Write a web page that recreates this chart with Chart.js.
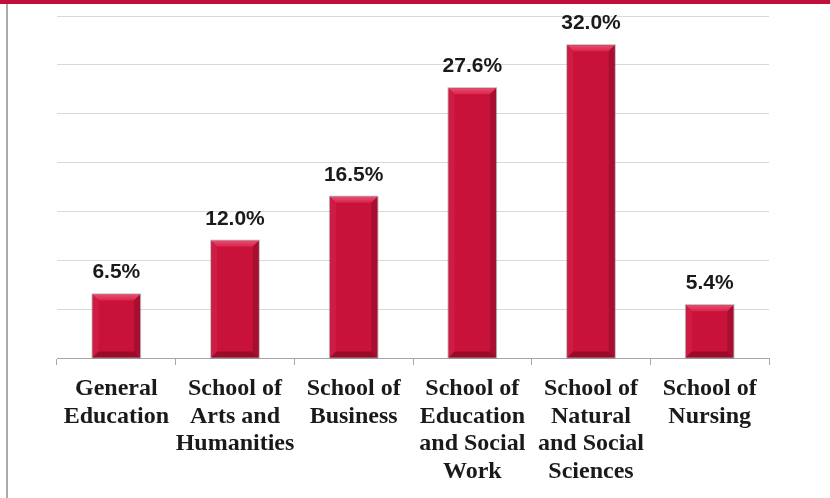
<!DOCTYPE html>
<html>
<head>
<meta charset="utf-8">
<script src="https://cdn.jsdelivr.net/npm/chart.js@4"></script>
<style>
  html, body { margin: 0; padding: 0; background: #fff; }
  #wrap { position: relative; width: 830px; height: 498px; overflow: hidden; }
  #topBand { position: absolute; left: 0; top: 0; width: 830px; height: 4px; background: #c0103a; }
  #leftLine { position: absolute; left: 6px; top: 4px; width: 2px; height: 494px; background: #aaaaaa; }
  canvas { position: absolute; left: 0; top: 0; }
</style>
</head>
<body>
<div id="wrap">
  <canvas id="schoolChart" width="830" height="498"></canvas>
  <div id="topBand"></div>
  <div id="leftLine"></div>
</div>
<script>
const categories = [
  ["General", "Education"],
  ["School of", "Arts and", "Humanities"],
  ["School of", "Business"],
  ["School of", "Education", "and Social", "Work"],
  ["School of", "Natural", "and Social", "Sciences"],
  ["School of", "Nursing"]
];
const shares = [6.5, 12.0, 16.5, 27.6, 32.0, 5.4];
const yTicks = [0, 5, 10, 15, 20, 25, 30, 35];

// bevelled look of the bars, drawn over each bar element
const bevelPlugin = {
  id: "bevel",
  afterDatasetsDraw(chart) {
    const ctx = chart.ctx;
    const b = 6;
    chart.getDatasetMeta(0).data.forEach((bar) => {
      const p = bar.getProps(["x", "y", "base", "width"], true);
      const l = p.x - p.width / 2;
      const r = p.x + p.width / 2;
      const t = p.y;
      const bot = p.base;
      ctx.save();
      const poly = (pts, color) => {
        ctx.beginPath();
        ctx.moveTo(pts[0][0], pts[0][1]);
        pts.slice(1).forEach((pt) => ctx.lineTo(pt[0], pt[1]));
        ctx.closePath();
        ctx.fillStyle = color;
        ctx.fill();
      };
      const topGrad = ctx.createLinearGradient(0, t, 0, t + b);
      topGrad.addColorStop(0, "#ee4a70");
      topGrad.addColorStop(1, "#d8244c");
      poly([[l, t], [r, t], [r - b, t + b], [l + b, t + b]], topGrad);
      poly([[l, t], [l + b, t + b], [l + b, bot - b], [l, bot]], "#d01c44");
      poly([[r, t], [r, bot], [r - b, bot - b], [r - b, t + b]], "#a80e30");
      poly([[l, bot], [r, bot], [r - b, bot - b], [l + b, bot - b]], "#9a0b2a");
      ctx.strokeStyle = "rgba(90, 90, 90, 0.45)";
      ctx.lineWidth = 1;
      ctx.strokeRect(l - 0.5, t - 0.5, p.width + 1, bot - t + 1);
      ctx.restore();
    });
  },
};

const valueLabels = {
  id: "valueLabels",
  afterDatasetsDraw(chart) {
    const ctx = chart.ctx;
    ctx.save();
    ctx.font = "bold 21px 'Liberation Sans', Arial, sans-serif";
    ctx.fillStyle = "#1a1a1a";
    ctx.textAlign = "center";
    ctx.textBaseline = "alphabetic";
    chart.getDatasetMeta(0).data.forEach((bar, i) => {
      ctx.fillText(shares[i].toFixed(1) + "%", bar.x, bar.y - 16);
    });
    ctx.restore();
  },
};

new Chart(document.getElementById("schoolChart"), {
  type: "bar",
  data: {
    labels: categories,
    datasets: [
      {
        data: shares,
        backgroundColor: "#c8123a",
        borderWidth: 0,
        barPercentage: 0.8,
        categoryPercentage: 0.5,
      },
    ],
  },
  options: {
    responsive: false,
    animation: false,
    devicePixelRatio: 1,
    layout: {
      padding: { left: 57, right: 61, top: 16, bottom: 0 },
    },
    plugins: {
      legend: { display: false },
      tooltip: { enabled: false },
    },
    scales: {
      x: {
        afterFit: (scale) => {
          scale.height = 140;
        },
        border: { display: true, color: "#a6a6a6", width: 1 },
        grid: {
          drawOnChartArea: false,
          drawTicks: true,
          tickLength: 7,
          color: "#a6a6a6",
        },
        ticks: {
          autoSkip: false,
          maxRotation: 0,
          minRotation: 0,
          padding: 10,
          color: "#1a1a1a",
          font: {
            family: "'Liberation Serif', 'Times New Roman', serif",
            size: 24,
            weight: "bold",
            lineHeight: 1.15,
          },
        },
      },
      y: {
        min: yTicks[0],
        max: yTicks[yTicks.length - 1],
        afterBuildTicks: (scale) => {
          scale.ticks = yTicks.map((v) => ({ value: v }));
        },
        afterFit: (scale) => {
          scale.width = 0;
        },
        border: { display: false },
        grid: {
          color: "#d9d9d9",
          drawTicks: false,
        },
        ticks: { display: false },
      },
    },
  },
  plugins: [bevelPlugin, valueLabels],
});
</script>
</body>
</html>
